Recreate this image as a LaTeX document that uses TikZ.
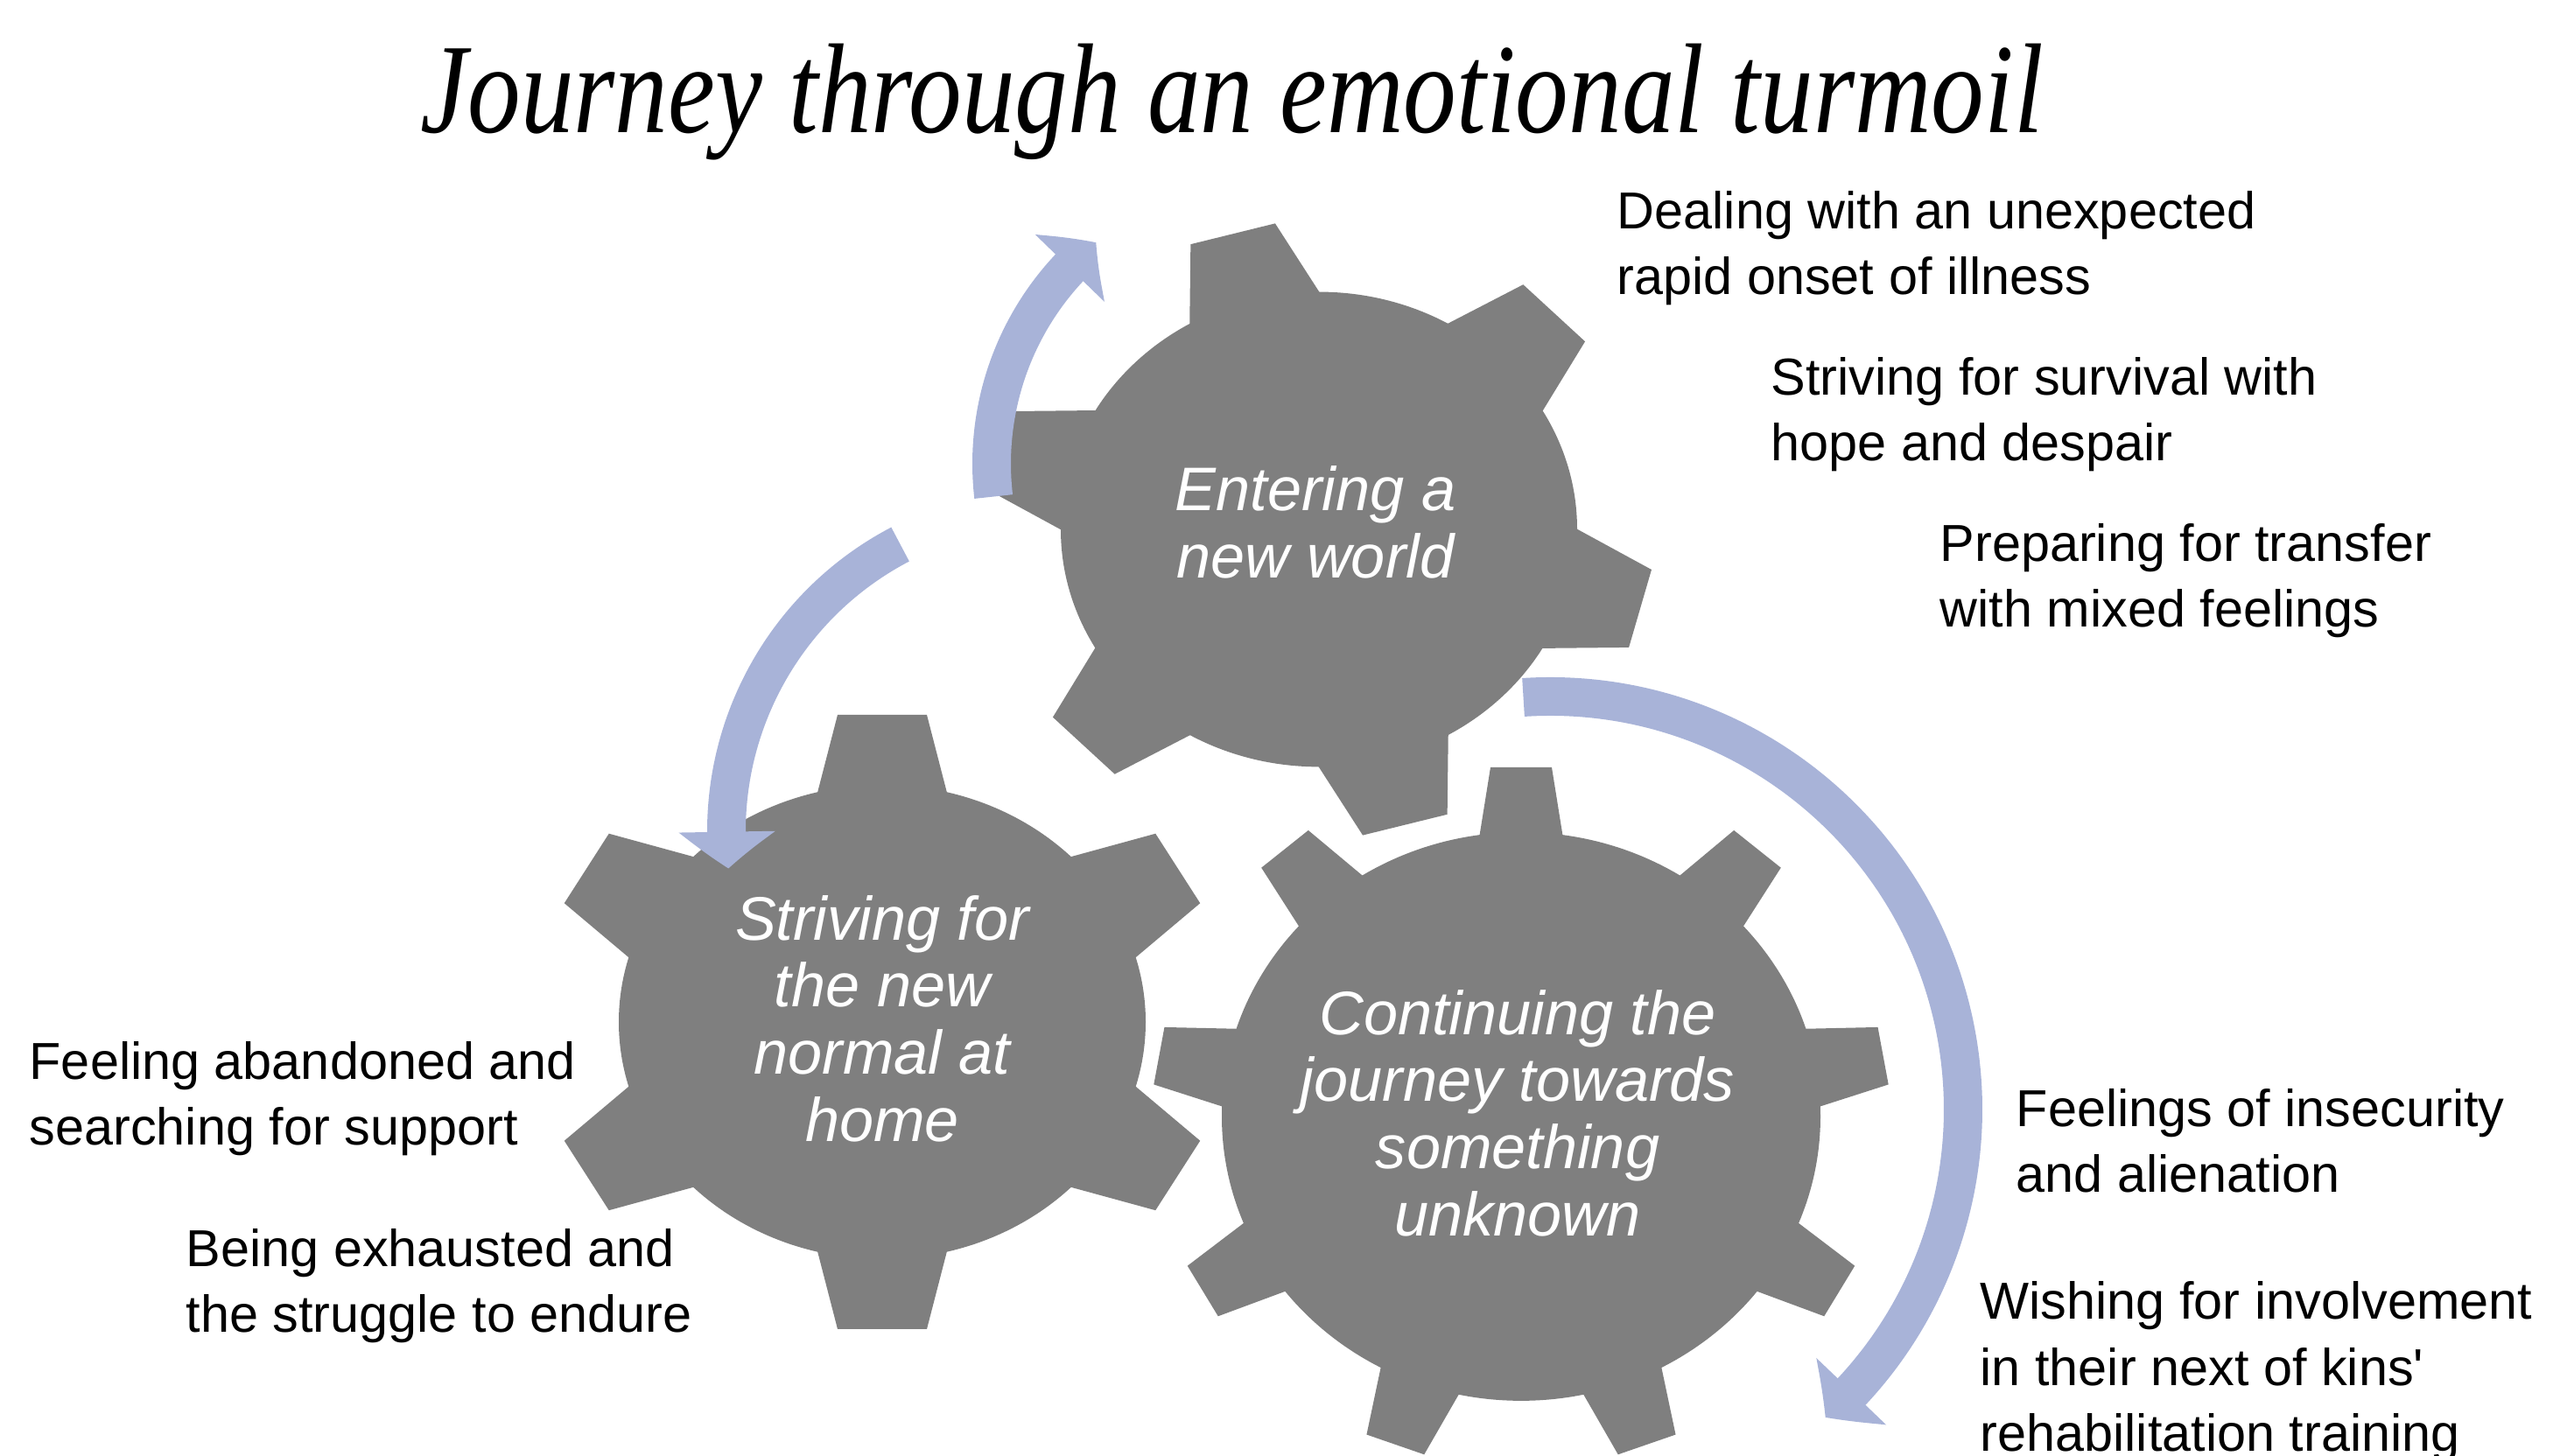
\documentclass[tikz,border=0pt]{standalone}
\usepackage{fontspec}
\setmainfont{Liberation Sans}
\newfontfamily\titlefont{Liberation Serif}
\usepackage{tikz}
\usetikzlibrary{arrows.meta,bending}

\definecolor{geargray}{RGB}{127,127,127}
\definecolor{arrowblue}{RGB}{168,179,216}

\tikzset{
  gearfill/.style={fill=geargray},
  bandarrow/.style={draw=arrowblue, line width=4.4mm,
    -{Triangle[width=10.8mm,length=4.2mm,bend]}},
  gearlabel/.style={text=white, align=center, inner sep=0,
    font=\fontsize{20}{21.8}\selectfont\itshape},
  sidelabel/.style={anchor=base west, align=left, inner sep=0,
    font=\fontsize{16.9}{21.5}\selectfont},
}

\begin{document}
\begin{tikzpicture}
  \useasboundingbox (0,0) rectangle (29.17,16.64);

  \node[anchor=base west, inner sep=0] (title) at (4.80,15.12)
    {\resizebox{18.54cm}{\height}{\titlefont\itshape\fontsize{41.6}{44}\selectfont Journey through an emotional turmoil}};

  % gear centres and arc centres
  \coordinate (gA) at (15.07,10.59);
  \coordinate (gB) at (10.08,4.96);
  \coordinate (gC) at (17.38,3.88);
  \coordinate (arcA) at (14.60,11.34);
  \coordinate (arcB) at (12.00,7.14);
  \coordinate (arcC) at (17.71,3.96);

  % gears
  \begin{scope}[shift={(gA)}, yscale=0.92]
    \fill[gearfill] (0,0) circle (2.95);
    \foreach \a in {105,165,...,405}
      \fill[gearfill, rotate=\a] (2.55,-0.85) -- (3.80,-0.50) -- (3.80,0.50) -- (2.55,0.85) -- cycle;
  \end{scope}
  \begin{scope}[shift={(gB)}, yscale=0.90]
    \fill[gearfill] (0,0) circle (3.01);
    \foreach \a in {30,90,...,330}
      \fill[gearfill, rotate=\a] (2.61,-0.81) -- (3.90,-0.51) -- (3.90,0.51) -- (2.61,0.81) -- cycle;
  \end{scope}
  \begin{scope}[shift={(gC)}, yscale=0.95]
    \fill[gearfill] (0,0) circle (3.42);
    \foreach \a in {10,50,...,330}
      \fill[gearfill, rotate=\a] (3.02,-0.53) -- (4.20,-0.35) -- (4.20,0.35) -- (3.02,0.53) -- cycle;
  \end{scope}

  % circular arrows
  \draw[bandarrow] ([shift={(186.6:3.27)}]arcA) arc[start angle=186.6, end angle=129.4, radius=3.27];
  \draw[bandarrow] ([shift={(117.6:3.70)}]arcB) arc[start angle=117.6, end angle=186.6, radius=3.70];
  \draw[bandarrow] ([shift={(93.7:4.72)}]arcC) arc[start angle=93.7, end angle=-48.2, radius=4.72];

  % gear texts
  \node[gearlabel] (enter) at (15.03,10.67) {Entering a\\new world};
  \node[gearlabel] (home) at (10.08,5.00) {Striving for\\the new\\normal at\\home};
  \node[gearlabel] (unknown) at (17.34,3.92) {Continuing the\\journey towards\\something\\unknown};

  % side texts (base = last line)
  \node[sidelabel] (onset) at (18.47,13.27) {Dealing with an unexpected\\rapid onset of illness};
  \node[sidelabel] (survival) at (20.23,11.37) {Striving for survival with\\hope and despair};
  \node[sidelabel] (transfer) at (22.16,9.47) {Preparing for transfer\\with mixed feelings};
  \node[sidelabel] (insecure) at (23.03,3.01) {Feelings of insecurity\\and alienation};
  \node[sidelabel] (involve) at (22.62,0.05) {Wishing for involvement\\in their next of kins\XeTeXglyph\XeTeXcharglyph"27\\rehabilitation training};
  \node[sidelabel] (abandon) at (0.33,3.55) {Feeling abandoned and\\searching for support};
  \node[sidelabel] (endure) at (2.12,1.41) {Being exhausted and\\the struggle to endure};
\end{tikzpicture}
\end{document}
